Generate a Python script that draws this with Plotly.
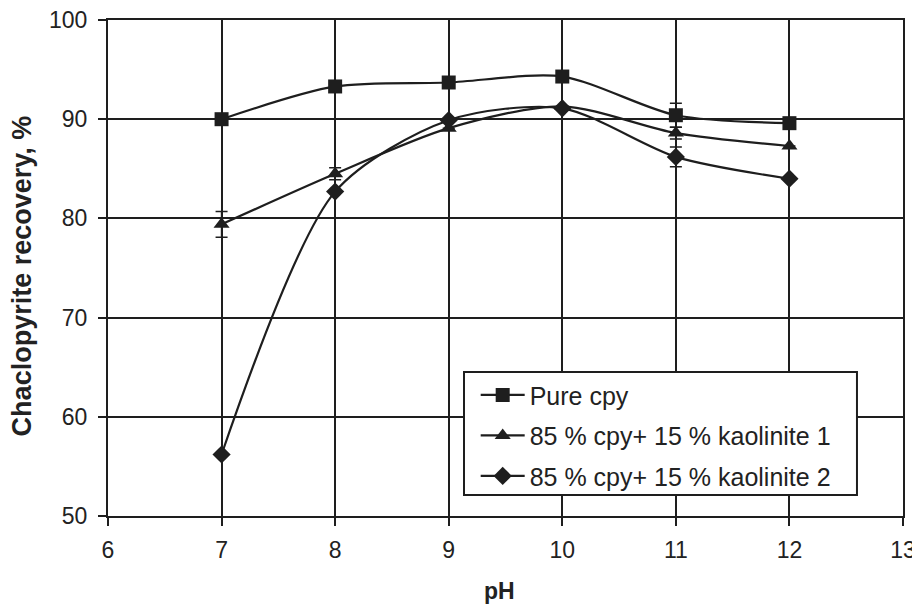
import plotly.graph_objects as go

ph = [7, 8, 9, 10, 11, 12]
pure = [90.0, 93.3, 93.7, 94.3, 90.4, 89.6]
kao1 = [79.4, 84.5, 89.1, 91.3, 88.6, 87.3]
kao2 = [56.2, 82.7, 89.9, 91.1, 86.2, 84.0]
pure_err = [0.0, 0.0, 0.0, 0.0, 1.2, 0.0]
kao1_err = [1.3, 0.6, 0.0, 0.0, 0.6, 0.0]
kao2_err = [0.0, 0.0, 0.0, 0.0, 1.0, 0.0]

names = ["Pure cpy", "85 % cpy+ 15 % kaolinite 1", "85 % cpy+ 15 % kaolinite 2"]
symbols = ["square", "triangle-up", "diamond"]
sizes = [14, 14, 14]
col = "#1e1e1e"
FONT = "Liberation Sans"

fig = go.Figure()
for i, (y, err, name, sym, sz) in enumerate(zip([pure, kao1, kao2], [pure_err, kao1_err, kao2_err], names, symbols, sizes)):
    fig.add_trace(go.Scatter(
        x=ph, y=y, name=name, mode="lines+markers", legendgroup=f"g{i}",
        line=dict(color=col, width=2.2, shape="spline", smoothing=0.8),
        marker=dict(symbol=sym, size=sz, color=col),
        error_y=dict(type="data", array=err, visible=True, color=col, thickness=1.5, width=6),
    ))

axis_common = dict(
    showline=True, linecolor=col, linewidth=2, mirror=True,
    showgrid=True, gridcolor=col, gridwidth=2,
    ticks="outside", ticklen=8, tickwidth=2, tickcolor=col,
    tickfont=dict(family=FONT, size=23, color="#222"),
    zeroline=False, automargin=False, ticklabeloverflow="allow",
)

fig.update_xaxes(range=[6, 13], dtick=1, tick0=6, ticklabelstandoff=4, **axis_common)
fig.update_yaxes(range=[50, 100], dtick=10, tick0=50, ticklabelstandoff=6, **axis_common)

fig.add_annotation(text="<b>Chaclopyrite recovery, %</b>", xref="paper", yref="paper",
                   x=-0.107, y=0.485, xanchor="center", yanchor="middle", textangle=-90,
                   showarrow=False, font=dict(family=FONT, size=27, color="#222"))
fig.add_annotation(text="<b>pH</b>", xref="paper", yref="paper",
                   x=0.493, y=-0.151, xanchor="center", yanchor="middle",
                   showarrow=False, font=dict(family=FONT, size=23, color="#222"))

# legend frame
fig.add_shape(type="rect", xref="paper", yref="paper",
              x0=0.4478, x1=0.9421, y0=0.0423, y1=0.2903,
              line=dict(color=col, width=2), fillcolor="white", layer="above")

fig.update_layout(
    width=912, height=599,
    margin=dict(l=100, r=17, t=12, b=91, autoexpand=False),
    plot_bgcolor="white", paper_bgcolor="white",
    legend=dict(x=0.4625, y=0.2900, xanchor="left", yanchor="top",
                bgcolor="rgba(0,0,0,0)", borderwidth=0,
                font=dict(family=FONT, size=25, color="#222"),
                tracegroupgap=5, itemwidth=44),
    showlegend=True,
)

fig.write_html("out.html")
